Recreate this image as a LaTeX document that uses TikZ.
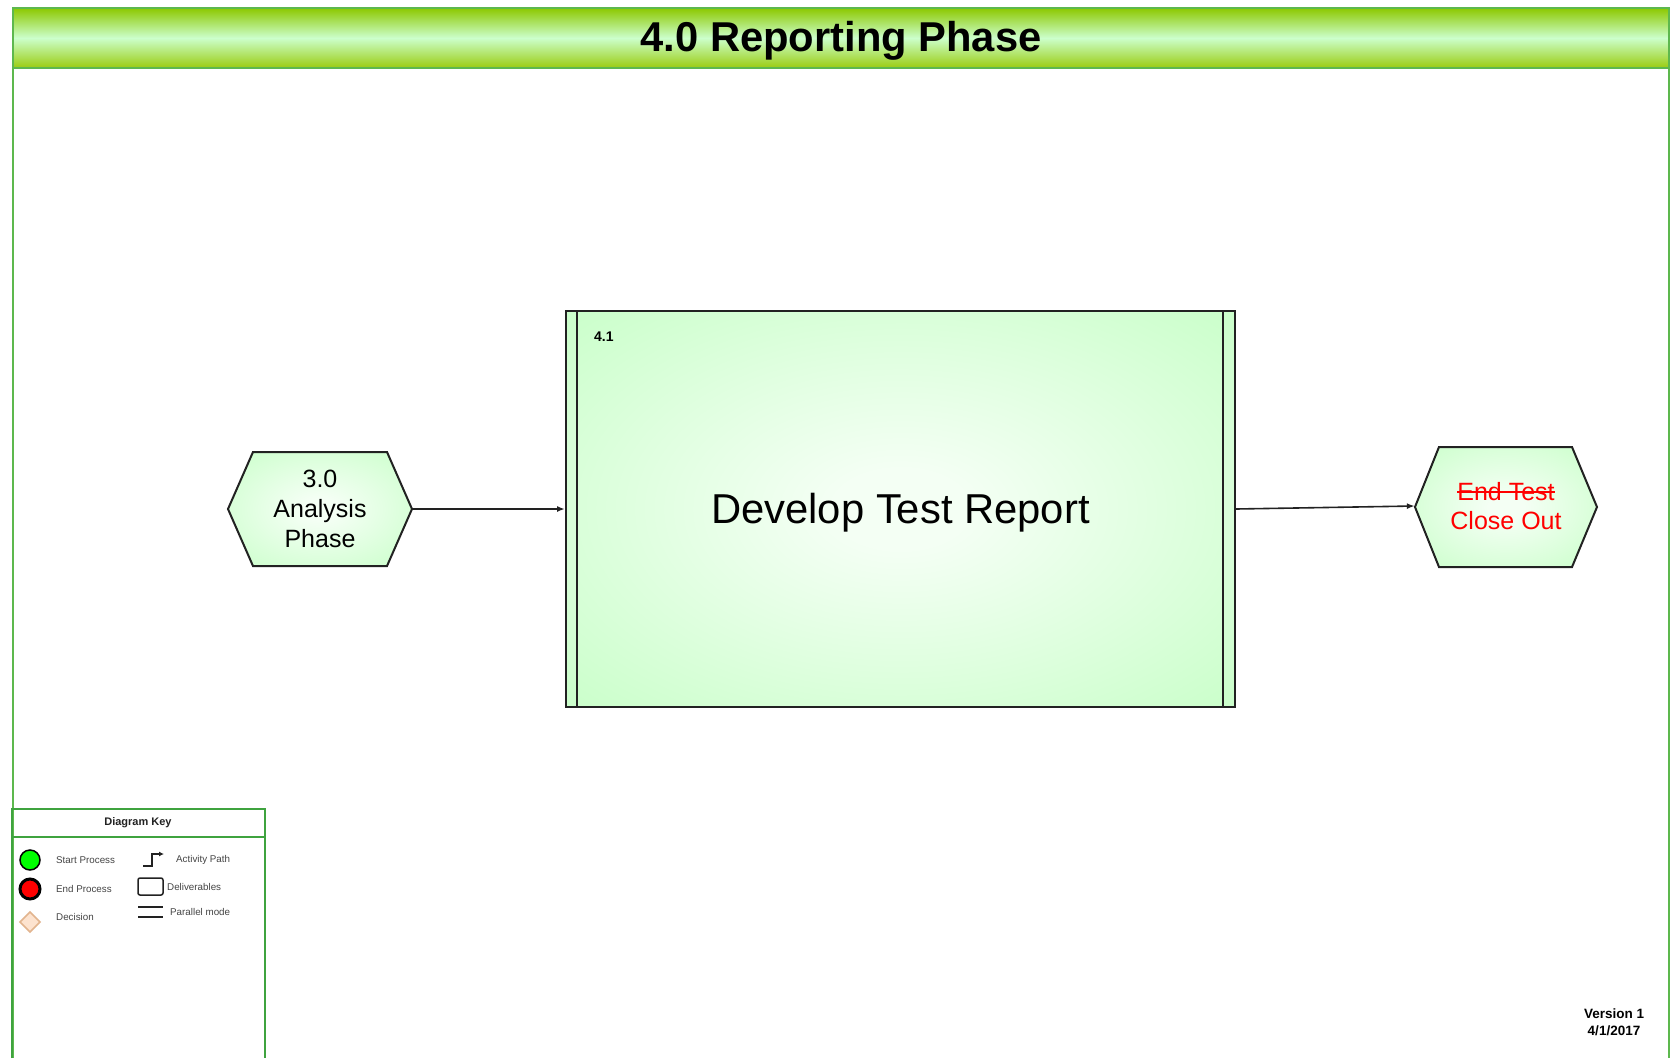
\documentclass[tikz,border=0pt]{standalone}
\usepackage{fontspec}
\setmainfont{Liberation Sans}
\usetikzlibrary{arrows.meta}
\definecolor{glowin}{HTML}{F4FFF4}
\definecolor{glowout}{HTML}{CCFFCC}
\definecolor{tbtop}{HTML}{8CC800}
\definecolor{tbmid}{HTML}{CCFFCC}
\definecolor{tbbot}{HTML}{9ACC10}
\definecolor{framegreen}{HTML}{5DB84E}
\definecolor{keygreen}{HTML}{3FA33F}
\definecolor{linec}{HTML}{222222}
\definecolor{keytext}{HTML}{444444}
\definecolor{peach}{HTML}{FDE3CF}
\definecolor{tan}{HTML}{E2B48E}
\pgfdeclareradialshading{softglow}{\pgfpoint{0bp}{0bp}}{color(0bp)=(glowin); color(5bp)=(glowin); color(34bp)=(glowout); color(50bp)=(glowout)}
\newcommand{\fsz}[2]{\fontsize{#1}{#2}\selectfont}
\newcommand{\mystrike}[1]{\setbox0\hbox{#1}\rlap{\raisebox{0.3em}{\rule{\wd0}{1.6pt}}}\box0}
\begin{document}
\begin{tikzpicture}[x=1pt,y=-1pt,
  boxline/.style={draw=linec, line width=2pt},
  hexshape/.style={boxline, shade, shading=softglow},
  hexlabel/.style={minimum width=184pt, minimum height=114pt, inner sep=0pt, align=center, font=\fsz{25}{30}},
  conn/.style={draw=linec, line width=1.6pt, -{Latex[length=8pt,width=6pt]}},
  keylbl/.style={anchor=west, inner sep=0pt, text=keytext, font=\fsz{9.8}{11}},
]
\useasboundingbox (0,0) rectangle (1671,1058);
\fill[white] (0,0) rectangle (1671,1058);

% outer frame
\draw[framegreen, line width=2pt] (13,68) -- (13,1058);
\draw[framegreen, line width=2pt] (1669,68) -- (1669,1058);

% title bar
\shade[top color=tbtop, bottom color=tbbot, middle color=tbmid] (13,8) rectangle (1669,68);
\draw[framegreen, line width=2pt] (13,8) rectangle (1669,68);
\node[font=\bfseries\fsz{41.7}{48}] (title) at (841,41) {4.0 Reporting Phase};

% main process box
\node[boxline, shade, shading=softglow, minimum width=669pt, minimum height=396pt, inner sep=0pt] (main) at (900.5,509) {};
\node[font=\fsz{41.8}{48}] (mainlbl) at (900.5,513) {Develop Test Report};
\draw[linec, line width=2pt] ([xshift=12pt]main.north west) -- ([xshift=12pt]main.south west);
\draw[linec, line width=2pt] ([xshift=-13pt]main.north east) -- ([xshift=-13pt]main.south east);
\node[anchor=west, inner sep=0pt, font=\bfseries\fsz{14}{16}] (num) at (594,337) {4.1};

% start hexagon
\path[hexshape] (228,509) -- (253,452) -- (387,452) -- (412,509) -- (387,566) -- (253,566) -- cycle;
\node[hexlabel] (start) at (320,509) {3.0\\Analysis\\Phase};

% end hexagon
\path[hexshape] (1415,507) -- (1439,447) -- (1572,447) -- (1597,507) -- (1572,567) -- (1439,567) -- cycle;
\node[hexlabel, minimum width=182pt, minimum height=120pt, text=red, font=\fsz{25}{29}] (finish) at (1506,506) {\mystrike{End Test}\\Close Out};

% connectors
\draw[conn] (start.east) -- (main.west);
\draw[conn] (main.east) -- (finish.west);

% diagram key
\draw[keygreen, line width=2pt] (12,1058) -- (12,809) -- (265,809) -- (265,1058);
\draw[keygreen, line width=2pt] (12,837) -- (265,837);
\node[font=\bfseries\fsz{11}{13}, text=linec] (keytitle) at (138,823) {Diagram Key};

\node[circle, fill=green, draw=black, line width=1.5pt, minimum size=20pt, inner sep=0pt] (kstart) at (30,860) {};
\node[circle, fill=red, draw=black, line width=3pt, minimum size=20pt, inner sep=0pt] (kend) at (30,889) {};
\path[fill=peach, draw=tan, line width=1.5pt] (30,912) -- (40,922) -- (30,932) -- (20,922) -- cycle;
\node[keylbl] (lstart) at (56,860) {Start Process};
\node[keylbl] (lend) at (56,889) {End Process};
\node[keylbl] (ldec) at (56,917) {Decision};

\draw[linec, line width=1.5pt, -{Latex[length=5pt,width=5pt]}] (143,866) -- (152,866) -- (152,854) -- (164,854);
\draw[linec, line width=1.5pt, rounded corners=2pt] (138,878) rectangle (163,895);
\draw[linec, line width=1.5pt] (138,907) -- (163,907);
\draw[linec, line width=1.5pt] (138,917) -- (163,917);
\node[keylbl] (lact) at (176,860) {Activity Path};
\node[keylbl] (ldel) at (167,887) {Deliverables};
\node[keylbl] (lpar) at (170,912) {Parallel mode};

% version
\node[align=center, font=\bfseries\fsz{13.5}{17}] (ver) at (1614,1022) {Version 1\\4/1/2017};
\end{tikzpicture}
\end{document}
